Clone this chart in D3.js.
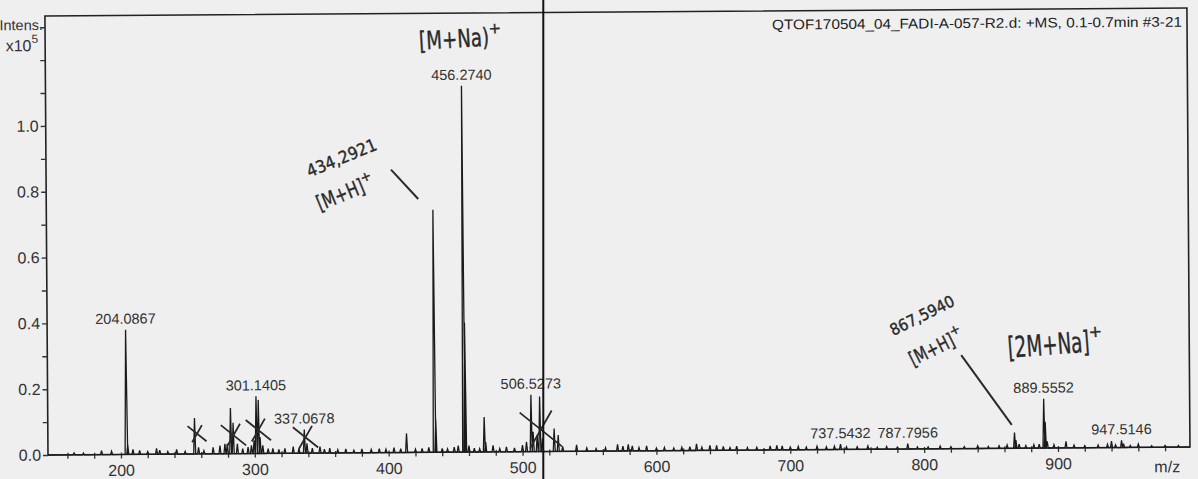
<!DOCTYPE html>
<html>
<head>
<meta charset="utf-8">
<script src="https://cdn.jsdelivr.net/npm/d3@7"></script>
<style>
  body { margin: 0; background: #efefef; }
  svg { display: block; }
</style>
</head>
<body>
<script>
const W = 1198
const H = 479

// spectrum sticks (m/z, intensity x10^5)
const mz = [165, 172, 185.5, 193, 204.0867, 205.1, 209, 214, 220, 226.6, 229, 235, 241.6, 248,
  255.1, 258, 262, 268.9, 274, 277.7, 279.5, 282.0, 283.9, 287, 291, 295, 297.5, 299.5,
  301.1405, 302.8, 304, 306, 310, 313.5, 318, 322.5, 328.7, 333, 337.0678, 339, 343, 348.7,
  352, 356, 362, 368, 374, 380, 387, 393, 398, 404, 409, 413.4, 420, 425, 430, 434.2921,
  435.3, 440, 444, 449, 452, 456.2740, 457.28, 460, 464, 468, 471.5, 472.5, 478, 483, 488,
  494, 500, 503, 506.5273, 508, 511, 513, 515, 523.7, 526.7, 530, 540.4, 548, 555, 562,
  571, 575, 579, 582, 587, 592.7, 600, 606, 613, 619, 625, 630, 634, 640, 645, 650, 655,
  660, 668, 675, 685, 690, 694, 700, 706, 712, 720, 727, 733, 737.5432, 742, 750, 758, 765,
  772, 780, 787.7956, 795, 803, 812, 820, 830, 840, 848, 856, 862, 867.5940, 868.6, 871,
  876, 882, 886, 889.5552, 890.56, 892, 897, 906, 912, 920, 930, 937, 940, 943, 947.5146,
  949, 954, 960, 970, 980, 990]
const intensity = [0.006, 0.005, 0.012, 0.01, 0.379, 0.03, 0.015, 0.012, 0.008, 0.018, 0.012, 0.008, 0.014, 0.008,
  0.109, 0.02, 0.01, 0.02, 0.025, 0.03, 0.03, 0.139, 0.094, 0.03, 0.015, 0.02, 0.025, 0.04,
  0.174, 0.163, 0.05, 0.025, 0.015, 0.015, 0.012, 0.015, 0.02, 0.015, 0.072, 0.03, 0.015, 0.02,
  0.012, 0.015, 0.01, 0.012, 0.008, 0.012, 0.01, 0.012, 0.01, 0.015, 0.012, 0.058, 0.01, 0.012, 0.015, 0.737,
  0.1, 0.012, 0.01, 0.015, 0.02, 1.113, 0.394, 0.02, 0.012, 0.01, 0.106, 0.03, 0.02, 0.01, 0.015,
  0.012, 0.02, 0.03, 0.173, 0.06, 0.05, 0.167, 0.04, 0.07, 0.05, 0.015, 0.02, 0.01, 0.008, 0.01,
  0.02, 0.015, 0.02, 0.015, 0.01, 0.015, 0.008, 0.01, 0.008, 0.01, 0.012, 0.02, 0.01, 0.015, 0.015, 0.012, 0.008,
  0.012, 0.008, 0.008, 0.012, 0.014, 0.012, 0.008, 0.01, 0.008, 0.01, 0.008, 0.01, 0.016, 0.008, 0.008, 0.01, 0.006,
  0.008, 0.006, 0.016, 0.006, 0.006, 0.008, 0.006, 0.006, 0.008, 0.006, 0.008, 0.01, 0.048, 0.025, 0.012,
  0.008, 0.01, 0.012, 0.15, 0.08, 0.02, 0.01, 0.02, 0.008, 0.006, 0.008, 0.01, 0.02, 0.008, 0.022,
  0.012, 0.006, 0.01, 0.005, 0.005, 0.005]

const labelledPeaks = [204.0867, 301.1405, 337.0678, 456.2740, 506.5273, 737.5432, 787.7956, 889.5552, 947.5146]
const xTickLabels = [200, 300, 400, 500, 600, 700, 800, 900]
const yTickLabels = [0.0, 0.2, 0.4, 0.6, 0.8, 1.0]
const title = 'QTOF170504_04_FADI-A-057-R2.d: +MS, 0.1-0.7min #3-21'

// handwritten crossing-out marks (m/z, intensity, size)
const crossMz = [256.6, 283.7, 302.3, 337.5, 513]
const crossInt = [0.063, 0.058, 0.073, 0.05, 0.07]
const crossSize = [9, 12, 12, 12, 20]

const svg = d3.select('body').append('svg').attr('width', W).attr('height', H)
svg.append('rect').attr('width', W).attr('height', H).attr('fill', '#efefef')

const x = d3.scaleLinear().domain([145.5, 998.6]).range([48, 1190])
const y = d3.scaleLinear().domain([0, 1.334]).range([455, 16])

// the scan is slightly tilted
const g = svg.append('g').attr('transform', 'rotate(-0.4, 48, 455)')

g.append('rect')
  .attr('x', x.range()[0]).attr('y', y.range()[1])
  .attr('width', x.range()[1] - x.range()[0]).attr('height', y.range()[0] - y.range()[1])
  .attr('fill', 'none').attr('stroke', '#222').attr('stroke-width', 1.6)

// y axis
const yAxis = d3.axisLeft(y).tickValues(d3.range(0, 1.35, 0.1)).tickSize(5).tickPadding(2)
  .tickFormat(d => yTickLabels.some(v => Math.abs(v - d) < 1e-6) ? d.toFixed(1) : '')
const ya = g.append('g').attr('transform', `translate(${x.range()[0]},0)`).call(yAxis)
ya.select('.domain').remove()
ya.selectAll('line').attr('stroke', '#333').attr('stroke-width', 1.4)
ya.selectAll('text').attr('font-family', 'Liberation Sans, Arial').attr('font-size', 16).attr('fill', '#333')

// x axis
const xAxis = d3.axisBottom(x).tickValues(d3.range(160, 1000, 20)).tickSize(4).tickPadding(6)
  .tickFormat(d => xTickLabels.includes(d) ? d : '')
const xa = g.append('g').attr('transform', `translate(0,${y(0)})`).call(xAxis)
xa.select('.domain').remove()
xa.selectAll('line').attr('y1', -2).attr('stroke', '#333').attr('stroke-width', 1.3)
xa.selectAll('text').attr('font-family', 'Liberation Sans, Arial').attr('font-size', 16).attr('fill', '#333')

g.append('text').attr('x', 1180).attr('y', y(0) + 25).attr('text-anchor', 'end')
  .attr('font-family', 'Liberation Sans, Arial').attr('font-size', 16).attr('fill', '#333').text('m/z')

const yl = g.append('g').attr('font-family', 'Liberation Sans, Arial').attr('fill', '#333')
yl.append('text').attr('x', 46).attr('y', 30).attr('text-anchor', 'end').attr('font-size', 14.5).text('Intens.')
const yl2 = yl.append('text').attr('x', 41).attr('y', 51).attr('text-anchor', 'end').attr('font-size', 16)
yl2.append('tspan').text('x10')
yl2.append('tspan').attr('dy', -8).attr('font-size', 12).text('5')

// spectrum
const pts = [[x(145.5), y(0)]]
mz.forEach((m, i) => {
  const w = intensity[i] > 0.3 ? 1.3 : 1
  pts.push([x(m) - w, y(0)], [x(m), y(intensity[i])], [x(m) + w, y(0)])
})
pts.push([x(998.6), y(0)])
g.append('path').attr('d', d3.line()(pts))
  .attr('fill', 'none').attr('stroke', '#1a1a1a').attr('stroke-width', 1.3).attr('stroke-linejoin', 'miter')

// peak labels
g.append('g').selectAll('text').data(labelledPeaks).join('text')
  .attr('x', d => x(d)).attr('y', d => y(intensity[mz.indexOf(d)]) - 6)
  .attr('text-anchor', 'middle')
  .attr('font-family', 'Liberation Sans, Arial').attr('font-size', 14.5).attr('fill', '#333')
  .text(d => d.toFixed(4))

// title
g.append('text').attr('x', 1185).attr('y', 34.5).attr('text-anchor', 'end')
  .attr('font-family', 'Liberation Sans, Arial').attr('font-size', 14).attr('fill', '#222')
  .attr('textLength', 410).attr('lengthAdjust', 'spacingAndGlyphs')
  .text(title)

// handwriting
const hand = g.append('g').attr('fill', '#2a2a2a').attr('font-family', 'DejaVu Sans')
  .attr('stroke', '#2a2a2a').attr('stroke-width', 0.4)
function note(m, v, angle, txt, size, len) {
  const t = hand.append('text')
    .attr('transform', `translate(${x(m)},${y(v)}) rotate(${angle})`)
    .attr('text-anchor', 'middle').attr('font-size', size)
  t.append('tspan').text(txt).attr('textLength', len).attr('lengthAdjust', 'spacingAndGlyphs')
  return t
}
note(456, 1.23, -3, '[M+Na)', 25, 70).append('tspan').attr('dy', -12).attr('font-size', 15).text('+')
note(368, 0.88, -22, '434,2921', 17, 74)
note(371, 0.77, -22, '[M+H]', 21, 50).append('tspan').attr('dy', -10).attr('font-size', 13).text('+')
note(801, 0.39, -26, '867,5940', 16, 70)
note(812, 0.29, -26, '[M+H]', 20, 48).append('tspan').attr('dy', -10).attr('font-size', 13).text('+')
note(899, 0.285, -4, '[2M+Na]', 29, 82).append('tspan').attr('dy', -14).attr('font-size', 16).text('+')

const leaderMz = [[403.2, 423.4], [828.2, 865.6]]
const leaderInt = [[0.86, 0.77], [0.284, 0.071]]
leaderMz.forEach((l, i) => {
  g.append('line')
    .attr('x1', x(l[0])).attr('y1', y(leaderInt[i][0]))
    .attr('x2', x(l[1])).attr('y2', y(leaderInt[i][1]))
    .attr('stroke', '#2a2a2a').attr('stroke-width', 2)
})

crossMz.forEach((m, i) => {
  const cx = x(m), cy = y(crossInt[i]), s = crossSize[i]
  g.append('path')
    .attr('d', `M${cx - s},${cy - s * 0.8}L${cx + s * 1.1},${cy + s * 0.9}M${cx - s * 0.5},${cy + s}L${cx + s * 0.6},${cy - s * 0.9}`)
    .attr('fill', 'none').attr('stroke', '#2a2a2a').attr('stroke-width', 1.8)
})

// vertical line across the scan
svg.append('line').attr('x1', 543.3).attr('x2', 543.3).attr('y1', 0).attr('y2', H)
  .attr('stroke', '#111').attr('stroke-width', 2)
</script>
</body>
</html>
